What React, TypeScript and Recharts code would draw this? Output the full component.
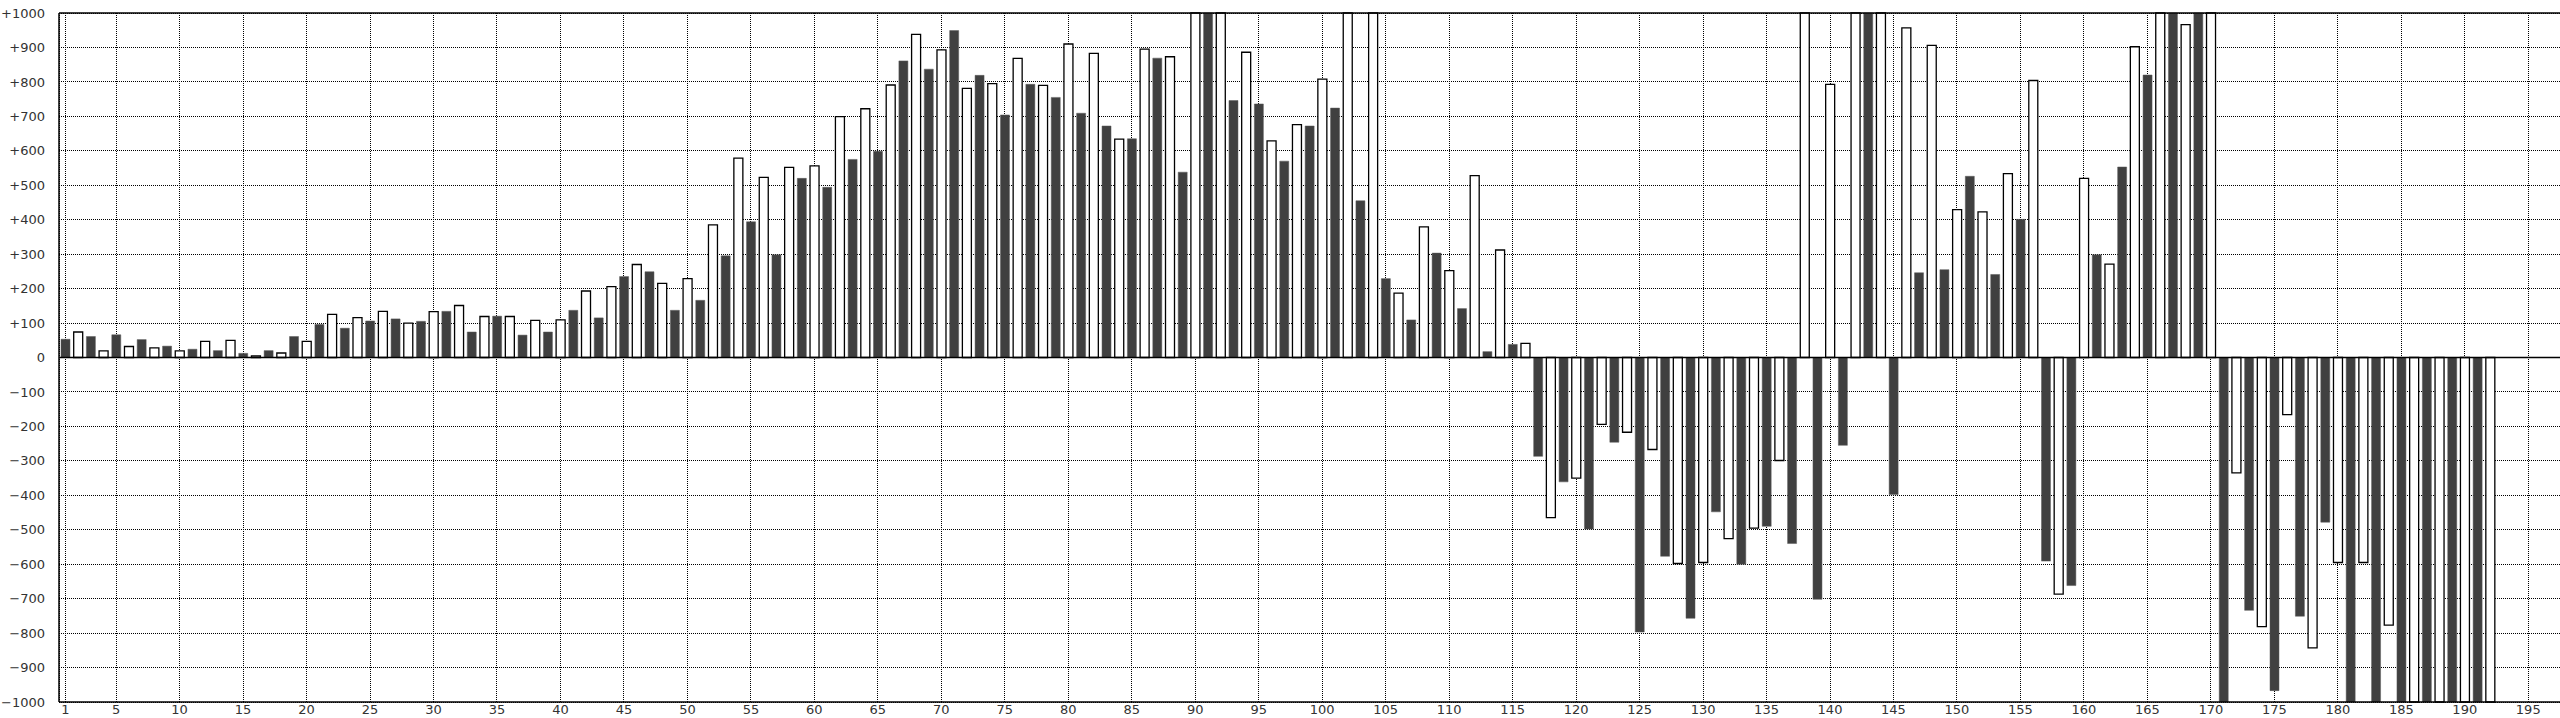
import React from 'react';
import { BarChart, Bar, XAxis, YAxis, CartesianGrid, ReferenceLine, Cell } from 'recharts';

// Categories 1..197 (index positions on the x axis)
const categories: number[] = Array.from({ length: 197 }, (_, i) => i + 1);

// Dark bars: odd positions 1, 3, 5, ..., 191
const darkValues: number[] = [
  53, 61, 66, 52, 33, 24, 20, 12, 20, 61,
  96, 85, 106, 112, 105, 134, 74, 120, 65, 74,
  137, 115, 235, 249, 137, 166, 295, 394, 298, 520,
  494, 575, 599, 861, 837, 949, 819, 704, 793, 755,
  709, 672, 635, 869, 538, 1000, 746, 736, 570, 672,
  724, 455, 229, 109, 303, 142, 17, 38, -287, -361,
  -498, -246, -797, -577, -757, -448, -600, -490, -540, -702,
  -255, 1000, -398, 246, 255, 526, 241, 401, -591, -662,
  298, 553, 820, 1000, 1000, -1000, -734, -967, -751, -478,
  -1000, -1000, -1000, -1000, -1000, -1000,
];

// White bars: even positions 2, 4, 6, ..., 192
const lightValues: number[] = [
  74, 19, 32, 28, 19, 47, 50, 5, 13, 47,
  125, 116, 134, 100, 133, 151, 119, 119, 108, 109,
  193, 206, 270, 215, 229, 385, 579, 523, 552, 556,
  699, 722, 791, 938, 893, 781, 795, 868, 790, 910,
  883, 634, 895, 873, 1000, 1000, 886, 629, 676, 808,
  1000, 1000, 187, 379, 252, 528, 312, 41, -465, -350,
  -194, -217, -267, -598, -595, -526, -495, -299, 1000, 793,
  1000, 1000, 957, 906, 429, 423, 534, 804, -687, 520,
  271, 902, 1000, 966, 1000, -335, -781, -166, -843, -595,
  -595, -777, -1000, -1000, -1000, -1000,
];

const xTicks: number[] = [1, 5, 10, 15, 20, 25, 30, 35, 40, 45, 50, 55, 60, 65, 70, 75, 80, 85, 90, 95,
  100, 105, 110, 115, 120, 125, 130, 135, 140, 145, 150, 155, 160, 165, 170, 175, 180, 185, 190, 195];

const yTicks: number[] = [-1000, -900, -800, -700, -600, -500, -400, -300, -200, -100, 0,
  100, 200, 300, 400, 500, 600, 700, 800, 900, 1000];

const data = categories.map((x) => {
  let v: number | null = null;
  if (x % 2 === 1) {
    const i = (x - 1) / 2;
    v = i < darkValues.length ? darkValues[i] : null;
  } else {
    const i = x / 2 - 1;
    v = i < lightValues.length ? lightValues[i] : null;
  }
  return { x, v };
});

const fmtY = (v: number) => (v > 0 ? `+${v}` : v < 0 ? `\u2212${Math.abs(v)}` : '0');

export default function App() {
  return (
    <div style={{ position: 'absolute', left: 0, top: 0, width: 2560, height: 718, background: '#fff' }}>
      <BarChart
        width={2560}
        height={718}
        data={data}
        margin={{ top: 13, right: 0, bottom: 0, left: 0 }}
        barSize={9}
      >
        <CartesianGrid stroke="#000" strokeDasharray="1 1" strokeWidth={1} shapeRendering="crispEdges" />
        <XAxis
          dataKey="x"
          ticks={xTicks}
          interval={0}
          height={16}
          tickSize={0}
          tickMargin={3}
          tickLine={false}
          axisLine={{ stroke: '#000', strokeWidth: 1.5 }}
          tick={{ fill: '#333', fontSize: 13, fontFamily: 'DejaVu Sans' }}
        />
        <YAxis
          type="number"
          domain={[-1000, 1000]}
          ticks={yTicks}
          interval={0}
          width={59}
          tickSize={0}
          tickMargin={14}
          tickLine={false}
          tickFormatter={fmtY}
          axisLine={{ stroke: '#000', strokeWidth: 1.5 }}
          tick={{ fill: '#333', fontSize: 13, fontFamily: 'DejaVu Sans' }}
        />
        <ReferenceLine y={1000} stroke="#000" strokeWidth={1.5} />
        <Bar dataKey="v" isAnimationActive={false}>
          {data.map((d) =>
            d.x % 2 === 1 ? (
              <Cell key={d.x} fill="#404040" stroke="#5a5a5a" strokeWidth={0.5} />
            ) : (
              <Cell key={d.x} fill="#ffffff" stroke="#000" strokeWidth={1.3} />
            )
          )}
        </Bar>
        <ReferenceLine y={0} stroke="#000" strokeWidth={1.5} />
      </BarChart>
    </div>
  );
}
